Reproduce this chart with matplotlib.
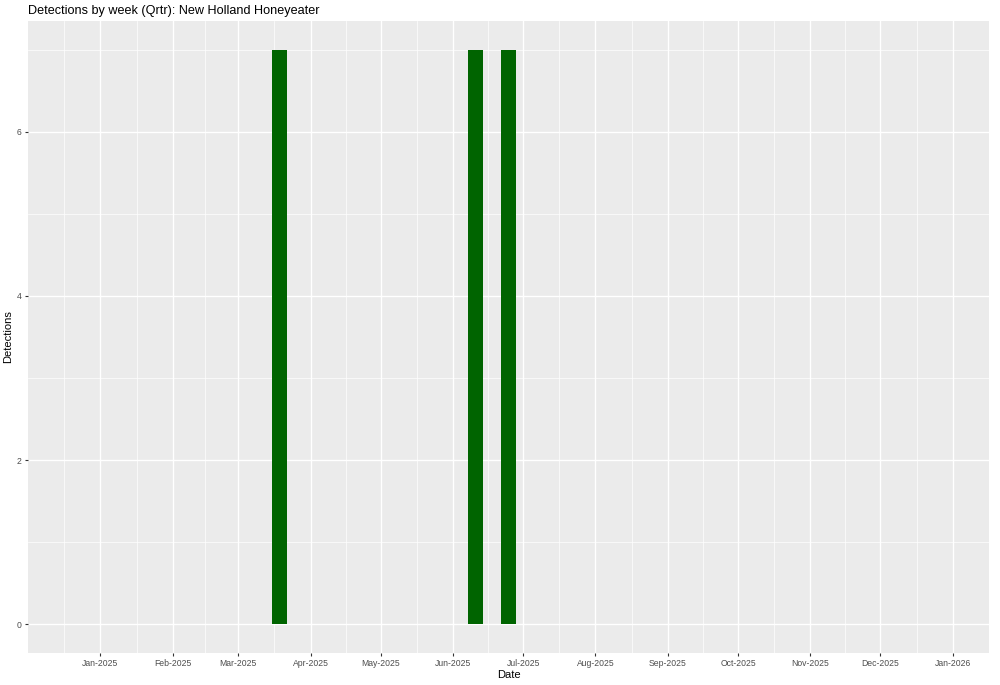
"""
Weekly detections bar chart (ggplot-like look)
"""
import datetime as dt
import matplotlib
matplotlib.use("Agg")
import matplotlib.pyplot as plt
import matplotlib.dates as mdates

# DATA
week_dates = ["2025-03-18", "2025-06-10", "2025-06-24"]
detections = [7, 7, 7]
month_ticks = ["2025-01-01", "2025-02-01", "2025-03-01", "2025-04-01", "2025-05-01",
               "2025-06-01", "2025-07-01", "2025-08-01", "2025-09-01", "2025-10-01",
               "2025-11-01", "2025-12-01", "2026-01-01"]
y_ticks = [0, 2, 4, 6]

TITLE = "Detections by week (Qrtr): New Holland Honeyeater"
OUTPUT_FILE_NAME = "out.png"

plt.rcParams['font.family'] = ['Liberation Sans', 'DejaVu Sans']

to_date = lambda s: dt.datetime.strptime(s, "%Y-%m-%d")
x = [mdates.date2num(to_date(d)) + 0.6 for d in week_dates]  # centre bars mid-day
majors = [mdates.date2num(to_date(d)) for d in month_ticks]

# minor grid at midpoints between breaks (ggplot habit), incl. one either side
ext = [mdates.date2num(dt.datetime(2024, 12, 1))] + majors + [mdates.date2num(dt.datetime(2026, 2, 1))]
minors = [(a + b) / 2 for a, b in zip(ext[:-1], ext[1:])]

fig = plt.figure(figsize=(10, 6.85), dpi=100)
ax = fig.add_axes([0.028, 32 / 685, 0.961, (653 - 21) / 685])
ax.set_facecolor("#EBEBEB")

ax.bar(x, detections, width=6.5, color="#006400", zorder=3)

ax.set_xlim(mdates.date2num(dt.datetime(2024, 12, 1)), mdates.date2num(dt.datetime(2026, 1, 16, 10)))
ax.set_ylim(-0.35, 7.35)

ax.set_xticks(majors)
ax.set_xticklabels([to_date(d).strftime("%b-%Y") for d in month_ticks])
ax.set_xticks(minors, minor=True)
ax.set_yticks(y_ticks)
ax.set_yticks([1, 3, 5, 7], minor=True)

ax.grid(True, which="major", color="white", linewidth=1.0, zorder=0)
ax.grid(True, which="minor", color="white", linewidth=0.5, zorder=0)
ax.set_axisbelow(True)
for s in ax.spines.values():
    s.set_visible(False)

ax.tick_params(which="major", length=2.5, width=0.8, color="#333333",
               labelsize=6.2, labelcolor="#4D4D4D", pad=2)
ax.tick_params(which="minor", length=0)

ax.set_xlabel("Date", fontsize=8, labelpad=1)
ax.set_ylabel("Detections", fontsize=8, labelpad=3)
ax.set_title(TITLE, fontsize=9.1, loc="left", x=0.0, pad=5)

plt.savefig(OUTPUT_FILE_NAME, dpi=100)
